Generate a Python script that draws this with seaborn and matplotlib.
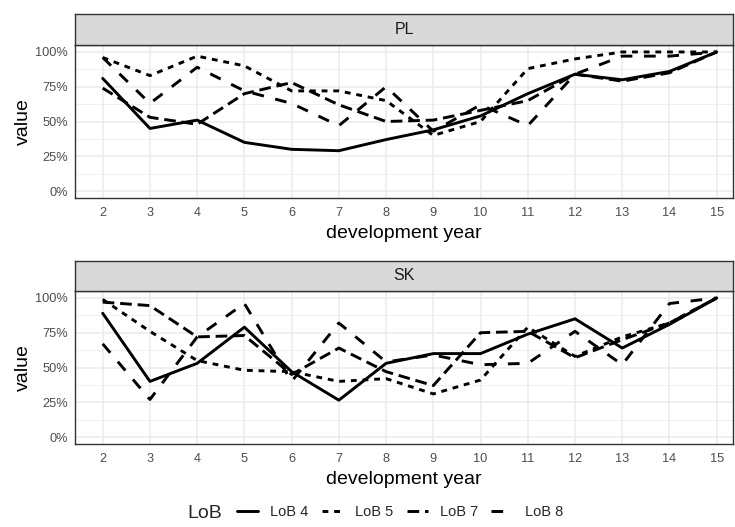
import numpy as np
import pandas as pd
import matplotlib
matplotlib.use("Agg")
import matplotlib.pyplot as plt
import seaborn as sns
from matplotlib.ticker import FuncFormatter
from matplotlib.lines import Line2D

years = list(range(2, 16))
lobs = ["LoB 4", "LoB 5", "LoB 7", "LoB 8"]

pl_lob4 = [81, 45, 51, 35, 30, 29, 37, 44, 54, 70, 84, 80, 86, 100]
pl_lob5 = [96, 83, 97, 90, 72, 72, 65, 40, 50, 88, 95, 100, 100, 100]
pl_lob7 = [74, 53, 48, 70, 78, 62, 50, 51, 58, 65, 84, 79, 85, 100]
pl_lob8 = [96, 63, 89, 72, 63, 47, 75, 43, 62, 47, 84, 97, 97, 100]

sk_lob4 = [89, 40, 53, 79, 47, 26.5, 53, 60, 60, 74, 85, 64, 81, 100]
sk_lob5 = [99, 76, 55, 48, 47, 40, 42, 31, 41, 79, 58, 72, 82, 100]
sk_lob7 = [97, 94.5, 72, 73, 45, 64, 47, 37, 75, 76, 57, 70, 82, 100]
sk_lob8 = [67, 27, 72, 96, 40, 82, 54, 59, 52, 53, 76, 52, 96, 100]

panels = {
    "PL": [pl_lob4, pl_lob5, pl_lob7, pl_lob8],
    "SK": [sk_lob4, sk_lob5, sk_lob7, sk_lob8],
}

rows = []
for country, series in panels.items():
    for lob, vals in zip(lobs, series):
        for yr, v in zip(years, vals):
            rows.append({"country": country, "LoB": lob, "year": yr, "value": v / 100.0})
df = pd.DataFrame(rows)

sns.set_theme(style="white")
plt.rcParams["font.family"] = ["Liberation Sans", "DejaVu Sans"]

dashes = {"LoB 4": "", "LoB 5": (2, 2), "LoB 7": (4, 2), "LoB 8": (4, 4)}
LW = 2.1

W, H = 735, 527
fig = plt.figure(figsize=(W / 100, H / 100), dpi=100)

def fx(px):
    return px / W

def fy(py):
    return 1 - py / H

layout = [("PL", 14, 45, 198), ("SK", 261, 291, 444)]
left_px, right_px = 75, 733
x_lo = 2 - (102.7 - left_px) / 47.23
x_hi = 15 + (right_px - 716.7) / 47.23

for country, strip_top, ax_top, ax_bot in layout:
    ax = fig.add_axes([fx(left_px), fy(ax_bot), fx(right_px) - fx(left_px), (ax_bot - ax_top) / H])
    sub = df[df["country"] == country]
    sns.lineplot(data=sub, x="year", y="value", style="LoB", style_order=lobs,
                 dashes=dashes, color="black", linewidth=LW, ax=ax, legend=False)
    for ln in ax.get_lines():
        ln.set_dash_capstyle("butt")
    ax.set_xlim(x_lo, x_hi)
    ax.set_ylim(-0.05, 1.05)
    ax.set_xticks(years)
    ax.set_yticks([0, 0.25, 0.5, 0.75, 1.0])
    ax.set_yticks([0.125, 0.375, 0.625, 0.875], minor=True)
    ax.yaxis.set_major_formatter(FuncFormatter(lambda v, p: f"{int(round(v * 100))}%"))
    ax.grid(True, which="major", color="#EBEBEB", linewidth=1.1)
    ax.grid(True, which="minor", axis="y", color="#EBEBEB", linewidth=0.55)
    ax.set_axisbelow(True)
    for s in ax.spines.values():
        s.set_color("#333333")
        s.set_linewidth(1.0)
    ax.tick_params(axis="both", which="major", length=2.75, width=0.8, color="#333333",
                   labelcolor="#4D4D4D", labelsize=9.2, pad=2.4)
    ax.tick_params(axis="x", which="major", pad=3.8)
    ax.tick_params(axis="both", which="minor", length=0)
    ax.set_xlabel("development year", fontsize=14, color="black", labelpad=4.0)
    ax.set_ylabel("value", fontsize=14, color="black", labelpad=2)
    # strip
    sax = fig.add_axes([fx(left_px), fy(ax_top), fx(right_px) - fx(left_px), (ax_top - strip_top) / H])
    sax.set_xticks([])
    sax.set_yticks([])
    sax.set_facecolor("#D9D9D9")
    for s in sax.spines.values():
        s.set_color("#333333")
        s.set_linewidth(1.0)
    sax.text(0.5, 0.5, country, ha="center", va="center", fontsize=11.5, color="#1A1A1A",
             transform=sax.transAxes)

handles = [Line2D([0], [0], color="black", linewidth=LW, dash_capstyle="butt",
                  linestyle=("-" if dashes[l] == "" else (0, dashes[l]))) for l in lobs]
leg = fig.legend(handles, lobs, loc="center", bbox_to_anchor=(fx(400), fy(512)), ncol=4,
                 frameon=False, fontsize=10.5, handlelength=1.45, handletextpad=0.85,
                 columnspacing=0.9)
fig.text(fx(222), fy(513), "LoB", ha="right", va="center", fontsize=14)

fig.savefig("out.png", dpi=100)
